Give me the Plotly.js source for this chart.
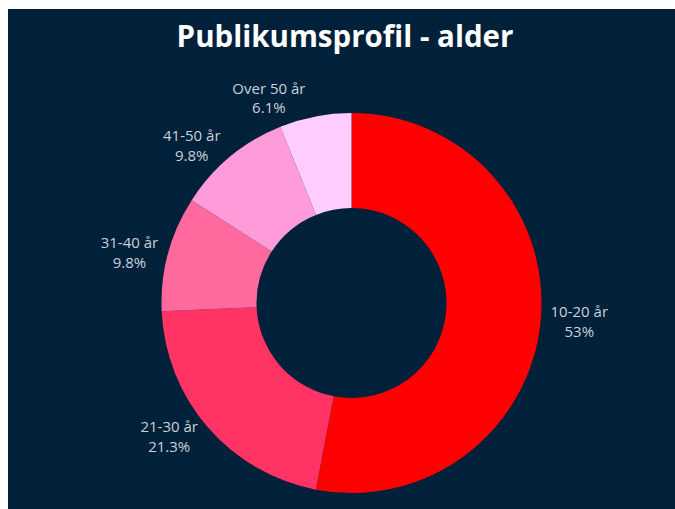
<!DOCTYPE html>
<html>
<head>
<meta charset="utf-8">
<script src="https://cdn.plot.ly/plotly-3.0.1.min.js"></script>
<style>
html,body{margin:0;padding:0;background:#ffffff;overflow:hidden;}
#chart{position:absolute;left:8px;top:9px;width:667px;height:500px;}
</style>
</head>
<body>
<div id="chart"></div>
<script>
const labels = ["10-20 år", "21-30 år", "31-40 år", "41-50 år", "Over 50 år"];
const values = [53, 21.3, 9.8, 9.8, 6.1];
const colors = ["#fe0000", "#ff3364", "#ff6a9e", "#ff9bd8", "#ffccff"];

const data = [{
  type: "pie",
  labels: labels,
  values: values,
  hole: 0.5,
  sort: false,
  direction: "clockwise",
  rotation: 0,
  marker: {colors: colors, line: {width: 0}},
  textinfo: "label+percent",
  textposition: "outside",
  outsidetextfont: {family: "Open Sans", size: 15, color: "#c9d1db"},
  showlegend: false,
  automargin: false
}];

const layout = {
  width: 667,
  height: 500,
  paper_bgcolor: "#01203a",
  plot_bgcolor: "#01203a",
  margin: {l: 20, r: 0, t: 104, b: 16},
  title: {
    text: "<b>Publikumsprofil - alder</b>",
    font: {family: "Open Sans", size: 29.5, color: "#ffffff"},
    x: 337 / 667, xref: "container", xanchor: "center",
    y: 1 - 28 / 500, yref: "container", yanchor: "middle"
  },
  showlegend: false
};

Plotly.newPlot("chart", data, layout, {displayModeBar: false, staticPlot: true});
</script>
</body>
</html>
